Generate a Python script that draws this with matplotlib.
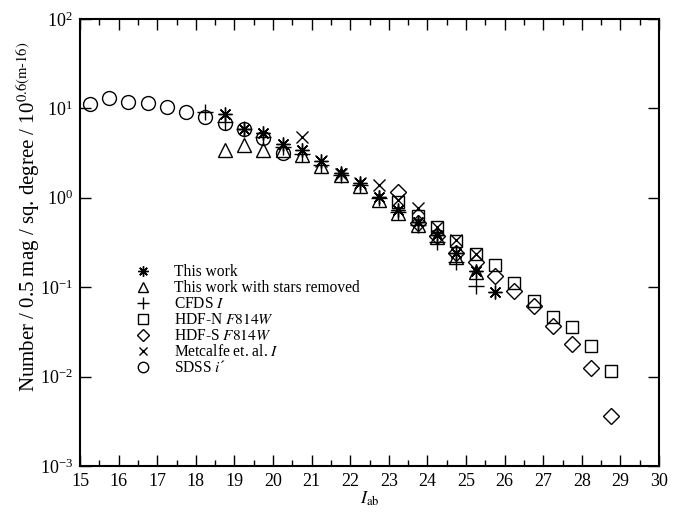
import numpy as np
import matplotlib
matplotlib.use('Agg')
import matplotlib.pyplot as plt

plt.rcParams['font.family'] = ['Liberation Serif', 'DejaVu Serif']
plt.rcParams['mathtext.fontset'] = 'stix'
plt.rcParams['axes.unicode_minus'] = False

# magnitude bins and counts
this_mag = [18.75, 19.25, 19.75, 20.25, 20.75, 21.25, 21.75, 22.25, 22.75,
            23.25, 23.75, 24.25, 24.75, 25.25, 25.75]
this_n = [8.7, 5.9, 5.3, 4.0, 3.4, 2.6, 1.9, 1.48, 1.03, 0.73, 0.54, 0.38,
          0.24, 0.151, 0.088]

nostar_mag = [18.75, 19.25, 19.75, 20.25, 20.75, 21.25, 21.75, 22.25, 22.75,
              23.25, 23.75, 24.25, 24.75, 25.25]
nostar_n = [3.4, 3.9, 3.4, 3.4, 3.0, 2.27, 1.8, 1.36, 0.94, 0.67, 0.50, 0.36,
            0.22, 0.149]

cfds_mag = [18.25, 18.75, 19.25, 19.75, 20.25, 20.75, 21.25, 21.75, 22.25,
            22.75, 23.25, 23.75, 24.25, 24.75, 25.25]
cfds_n = [9.2, 7.1, 5.9, 4.8, 3.7, 3.1, 2.3, 1.8, 1.39, 0.99, 0.70, 0.50,
          0.32, 0.19, 0.103]

hdfn_mag = [23.25, 23.75, 24.25, 24.75, 25.25, 25.75, 26.25, 26.75, 27.25,
            27.75, 28.25, 28.75]
hdfn_n = [0.90, 0.62, 0.47, 0.33, 0.235, 0.177, 0.112, 0.070, 0.046, 0.036,
          0.022, 0.0116]

hdfs_mag = [23.25, 23.75, 24.25, 24.75, 25.25, 25.75, 26.25, 26.75, 27.25,
            27.75, 28.25, 28.75]
hdfs_n = [1.17, 0.52, 0.37, 0.24, 0.19, 0.133, 0.091, 0.062, 0.037, 0.023,
          0.0124, 0.0036]

metcalfe_mag = [20.75, 21.25, 21.75, 22.25, 22.75, 23.25, 23.75, 24.25,
                24.75, 25.25]
metcalfe_n = [4.75, 2.6, 1.85, 1.45, 1.39, 0.94, 0.76, 0.475, 0.34, 0.235]

sdss_mag = [15.25, 15.75, 16.25, 16.75, 17.25, 17.75, 18.25, 18.75, 19.25,
            19.75, 20.25]
sdss_n = [11.2, 13.0, 11.9, 11.6, 10.4, 9.2, 8.1, 6.9, 5.8, 4.6, 3.2]

fig = plt.figure(figsize=(6.84, 5.12), dpi=100)
ax = fig.add_axes([0.117, 0.09, 0.8465, 0.873])

kw = dict(linestyle='none', color='black', markerfacecolor='none',
          markeredgewidth=1.0)
ax.plot(this_mag, this_n, marker=(8, 2, 0), markersize=10, label='This work', **kw)
ax.plot(nostar_mag, nostar_n, marker='^', markersize=10,
        label='This work with stars removed', **kw)
ax.plot(cfds_mag, cfds_n, marker='+', markersize=11, label='CFDS $I$', **kw)
ax.plot(hdfn_mag, hdfn_n, marker='s', markersize=9,
        label='HDF-N $F814W$', **kw)
ax.plot(hdfs_mag, hdfs_n, marker='D', markersize=8,
        label='HDF-S $F814W$', **kw)
ax.plot(metcalfe_mag, metcalfe_n, marker='x', markersize=8,
        label='Metcalfe et. al. $I$', **kw)
ax.plot(sdss_mag, sdss_n, marker='o', markersize=10,
        label='SDSS $i$\u00b4', **kw)

ax.set_yscale('log')
ax.set_xlim(15, 30)
ax.set_ylim(1e-3, 1e2)
ax.set_xticks(np.arange(15, 31, 1))
ax.set_xticks(np.arange(15.5, 30, 1), minor=True)
ax.yaxis.set_minor_locator(matplotlib.ticker.NullLocator())
ax.tick_params(which='both', direction='in', top=True, right=True,
               labelsize=13, width=1.0, pad=5)
ax.tick_params(which='major', length=8)
ax.tick_params(which='minor', length=4)
for s in ax.spines.values():
    s.set_linewidth(1.5)

ax.set_xlabel('$I_{\\rm ab}$', fontsize=13, labelpad=0)
ax.set_ylabel('Number / 0.5 mag / sq. degree / 10$^{0.6(\\rm m\\text{-}16)}$',
              fontsize=15)
ax.yaxis.set_label_coords(-0.066, 0.557)

ax.legend(loc='upper left', bbox_to_anchor=(0.085, 0.465), frameon=False,
          fontsize=11.2, labelspacing=0.0, handletextpad=1.5,
          markerscale=0.75, handlelength=1.0, borderaxespad=0)

fig.savefig('out.png', dpi=100)
